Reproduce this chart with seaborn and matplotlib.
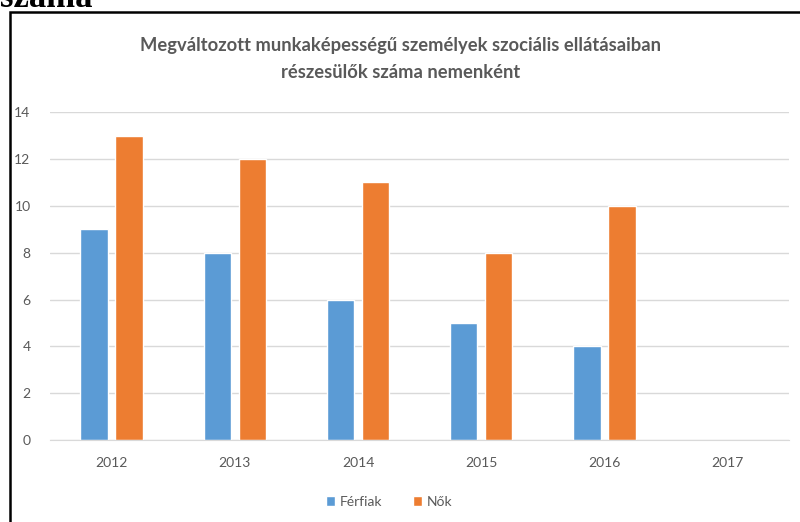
import numpy as np
import pandas as pd
import matplotlib
matplotlib.use("Agg")
import matplotlib.pyplot as plt
import seaborn as sns
from matplotlib.patches import Rectangle

# data (2017 has no bars)
years = ["2012", "2013", "2014", "2015", "2016", "2017"]
ferfiak = [9, 8, 6, 5, 4, np.nan]
nok = [13, 12, 11, 8, 10, np.nan]
series_names = ["Férfiak", "Nők"]
yticks = [0, 2, 4, 6, 8, 10, 12, 14]

df = pd.DataFrame({"Év": years * 2,
                   "Érték": ferfiak + nok,
                   "Nem": [series_names[0]] * len(years) + [series_names[1]] * len(years)})

sns.set_style("white")
plt.rcParams["font.family"] = ["Lato", "DejaVu Sans"]
grey = "#595959"

fig = plt.figure(figsize=(8, 5.22), dpi=100)
ax = fig.add_axes([0.0625, 0.157, 0.924, 0.628])

sns.barplot(data=df, x="Év", y="Érték", hue="Nem", order=years,
            hue_order=series_names, palette=["#5B9BD5", "#ED7D31"],
            width=0.57, gap=0.22, saturation=1, ax=ax, legend=True)

ax.set_ylim(0, 14)
ax.set_yticks(yticks)
ax.yaxis.grid(True, color="#d9d9d9", linewidth=1)
ax.set_axisbelow(True)
for s in ["top", "right", "left"]:
    ax.spines[s].set_visible(False)
ax.spines["bottom"].set_color("#d9d9d9")
ax.set_xlabel("")
ax.set_ylabel("")
ax.tick_params(axis="both", length=0, colors=grey, labelsize=10)
ax.tick_params(axis="x", pad=12)
ax.tick_params(axis="y", pad=14)

leg = ax.legend(loc="center", bbox_to_anchor=(0.486, 1 - 502 / 522),
                bbox_transform=fig.transFigure, ncol=2, frameon=False,
                handlelength=0.7, handleheight=0.7, handletextpad=0.3,
                columnspacing=2.2, fontsize=10)
for t in leg.get_texts():
    t.set_color(grey)

fig.text(0.501, 1 - 46 / 522,
         "Megváltozott munkaképességű személyek szociális ellátásaiban",
         ha="center", va="center", fontsize=13.2, fontweight="bold", color=grey)
fig.text(0.501, 1 - 73 / 522, "részesülők száma nemenként",
         ha="center", va="center", fontsize=13.2, fontweight="bold", color=grey)

# document remnants: frame around the chart and cut-off heading above it
fig.patches.append(Rectangle((10 / 800, -0.05), 1.0, 1 - 12 / 522 + 0.05,
                             transform=fig.transFigure, fill=False,
                             edgecolor="black", linewidth=1.8))
fig.text(0.0, 1 - 7 / 522, "száma", ha="left", va="baseline",
         fontsize=25, fontweight="bold", family="Liberation Serif", color="black")

fig.savefig("out.png", dpi=100)
